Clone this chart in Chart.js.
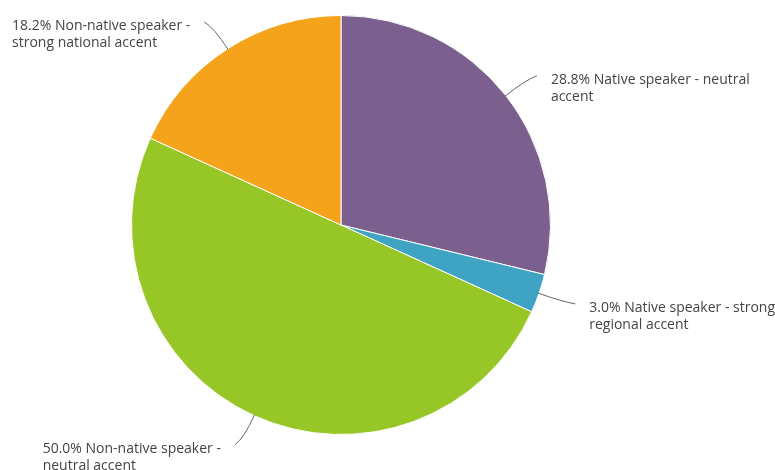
<!DOCTYPE html>
<html>
<head>
<meta charset="utf-8">
<script src="https://cdn.jsdelivr.net/npm/chart.js@4/dist/chart.umd.min.js"></script>
<style>
  html, body { margin: 0; padding: 0; background: #ffffff; }
  #wrap { width: 775px; height: 470px; position: relative; }
</style>
</head>
<body>
<div id="wrap"><canvas id="chart" width="775" height="470"></canvas></div>
<script>
// Accent categories and their shares (percent)
const categories = [
  'Native speaker - neutral accent',
  'Native speaker - strong regional accent',
  'Non-native speaker - neutral accent',
  'Non-native speaker - strong national accent'
];
const shares = [28.8, 3.0, 50.0, 18.2];
const sliceColors = ['#7b5f8e', '#3fa3c4', '#97c627', '#f4a31b'];

const LABEL_FONT = '14px "Open Sans", sans-serif';
const LABEL_COLOR = '#444444';
const LINE_COLOR = '#666666';
const WRAP_WIDTH = 206;
const LINE_HEIGHT = 17;

function wrapText(ctx, text, maxWidth) {
  const words = text.split(' ');
  const lines = [];
  let cur = '';
  for (const w of words) {
    const test = cur ? cur + ' ' + w : w;
    if (cur && ctx.measureText(test).width > maxWidth) {
      lines.push(cur);
      cur = w;
    } else {
      cur = test;
    }
  }
  if (cur) lines.push(cur);
  return lines;
}

// Draws curved leader lines and wrapped labels outside each slice
const outsideLabels = {
  id: 'outsideLabels',
  afterDatasetsDraw(chart) {
    const ctx = chart.ctx;
    const meta = chart.getDatasetMeta(0);
    const values = chart.data.datasets[0].data;
    ctx.save();
    ctx.font = LABEL_FONT;
    meta.data.forEach((arc, i) => {
      const { x, y, startAngle, endAngle, outerRadius } = arc.getProps(['x', 'y', 'startAngle', 'endAngle', 'outerRadius'], true);
      const mid = (startAngle + endAngle) / 2;
      const cos = Math.cos(mid), sin = Math.sin(mid);
      const right = cos >= 0;
      const p0 = { x: x + cos * (outerRadius - 1), y: y + sin * (outerRadius - 1) };
      const c = { x: x + cos * (outerRadius + 25), y: y + sin * (outerRadius + 25) };
      const end = {
        x: x + cos * (outerRadius + 32) + (right ? 6 : -6),
        y: y + sin * (outerRadius + 32)
      };

      ctx.beginPath();
      ctx.moveTo(p0.x, p0.y);
      ctx.quadraticCurveTo(c.x, c.y, end.x, end.y);
      ctx.strokeStyle = LINE_COLOR;
      ctx.lineWidth = 1;
      ctx.stroke();

      const text = values[i].toFixed(1) + '% ' + chart.data.labels[i];
      const lines = wrapText(ctx, text, WRAP_WIDTH);
      const blockW = Math.max(...lines.map(l => ctx.measureText(l).width));
      const tx = right ? end.x + 14 : end.x - 14 - blockW;
      ctx.fillStyle = LABEL_COLOR;
      ctx.textAlign = 'left';
      ctx.textBaseline = 'middle';
      lines.forEach((l, k) => {
        ctx.fillText(l, tx, end.y + 4 + k * LINE_HEIGHT);
      });
    });
    ctx.restore();
  }
};

new Chart(document.getElementById('chart'), {
  type: 'pie',
  data: {
    labels: categories,
    datasets: [{
      data: shares,
      backgroundColor: sliceColors,
      borderColor: '#ffffff',
      borderWidth: 1
    }]
  },
  options: {
    responsive: false,
    animation: false,
    layout: { padding: { left: 0, right: 93, top: 15, bottom: 35 } },
    plugins: {
      legend: { display: false },
      tooltip: { enabled: false }
    }
  },
  plugins: [outsideLabels]
});
</script>
</body>
</html>
